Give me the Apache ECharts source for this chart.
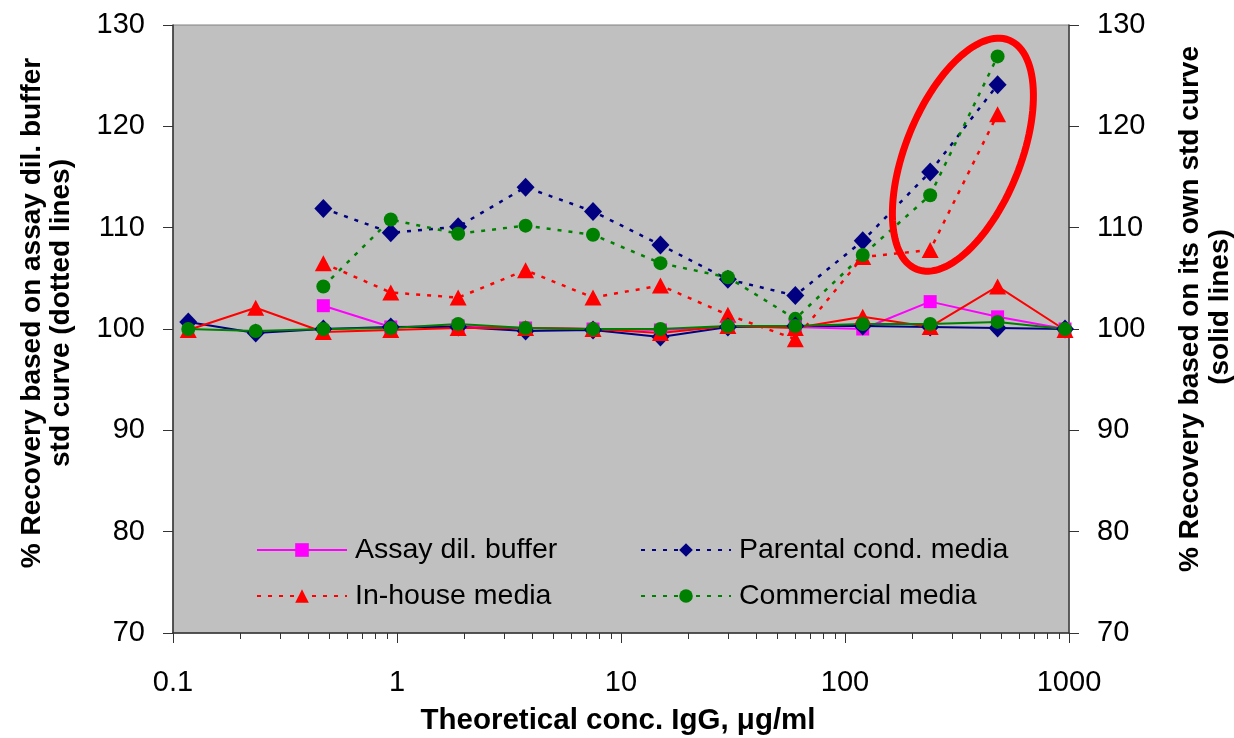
<!DOCTYPE html>
<html><head><meta charset="utf-8">
<script src="https://cdn.jsdelivr.net/npm/echarts@6/dist/echarts.min.js"></script>
<style>html,body{margin:0;padding:0;background:#fff}#c{width:1234px;height:738px}</style>
</head><body><div id="c"></div>
<script>
// Theoretical concentrations (x)
const conc = [0.117, 0.234, 0.469, 0.938, 1.875, 3.75, 7.5, 15, 30, 60, 120, 240, 480, 960];
// Solid lines: recovery based on each sample's own std curve
const assaySolid      = [null, null, 102.3, 100.2, 100.3, 100.1, 100.0, 99.9, 100.2, 100.2, 100.0, 102.7, 101.2, 100.0];
const parentalSolid   = [100.7, 99.6, 100.0, 100.2, 100.2, 99.8, 99.9, 99.2, 100.2, 100.3, 100.3, 100.2, 100.1, 100.0];
const inhouseSolid    = [99.9, 102.1, 99.7, 99.9, 100.1, 100.1, 100.0, 99.6, 100.3, 100.1, 101.2, 100.2, 104.2, 99.9];
const commercialSolid = [100.0, 99.8, 100.0, 100.1, 100.5, 100.1, 100.0, 100.0, 100.3, 100.3, 100.5, 100.5, 100.7, 100.0];
// Dotted lines: recovery based on assay dil. buffer std curve
const parentalDotted   = [null, null, 111.9, 109.5, 110.1, 114.0, 111.6, 108.3, 104.9, 103.3, 108.7, 115.5, 124.1, null];
const inhouseDotted    = [null, null, 106.5, 103.6, 103.1, 105.8, 103.1, 104.3, 101.4, 99.0, 107.1, 107.8, 121.2, null];
const commercialDotted = [null, null, 104.2, 110.8, 109.4, 110.2, 109.3, 106.5, 105.1, 101.0, 107.3, 113.2, 126.9, null];
// Axis tick labels
const xTickLabels = ['0.1', '1', '10', '100', '1000'];
const yTickLabels = ['70', '80', '90', '100', '110', '120', '130'];
const seriesNames = ['Assay dil. buffer', 'Parental cond. media', 'In-house media', 'Commercial media'];

const xDecades = xTickLabels.map(Number);
const minorTicks = [];
xDecades.slice(0, -1).forEach(d => { for (let k = 2; k <= 9; k++) minorTicks.push(+(d * k).toPrecision(6)); });

function pairs(vals) {
  const out = [];
  vals.forEach((v, i) => { if (v !== null) out.push([conc[i], v]); });
  return out;
}

const FONT = "'Liberation Sans', Arial, sans-serif";
const colors = { assay: '#FF00FF', parental: '#000080', inhouse: '#FF0000', commercial: '#008000' };
const dash = [4, 7];

function solid(name, vals, color, symbol, size) {
  return { name, type: 'line', data: pairs(vals), symbol, symbolSize: size,
    lineStyle: { color, width: 2, type: 'solid' }, itemStyle: { color }, animation: false, z: 3 };
}
function dotted(name, vals, color, symbol, size) {
  return { name, type: 'line', data: pairs(vals), symbol, symbolSize: size,
    lineStyle: { color, width: 2.5, type: dash }, itemStyle: { color }, animation: false, z: 2 };
}

const yMin = Number(yTickLabels[0]), yMax = Number(yTickLabels[yTickLabels.length - 1]);

function yAxisDef(pos, lineColor) {
  return {
    type: 'value', position: pos, min: yMin, max: yMax, interval: 10,
    axisLine: { show: true, lineStyle: { color: lineColor, width: 1.5 } },
    axisTick: { show: true, inside: false, length: 10, lineStyle: { color: '#333' } },
    axisLabel: { fontSize: 29, fontFamily: FONT, color: '#000', margin: 28 },
    splitLine: { show: false }
  };
}

function legendDef(name, left, top) {
  return {
    data: [name], left, top, orient: 'horizontal', padding: 0,
    itemWidth: 90, itemHeight: 17, selectedMode: false,
    textStyle: { fontSize: 28.5, fontFamily: FONT, color: '#000', lineHeight: 30, padding: [0, 0, 0, 3] }
  };
}

const chart = echarts.init(document.getElementById('c'), null, { renderer: 'canvas' });
const option = {
  backgroundColor: '#ffffff',
  animation: false,
  grid: { left: 173, right: 165, top: 25, bottom: 105, show: true, backgroundColor: '#C0C0C0', borderColor: '#808080', borderWidth: 1 },
  xAxis: [
    {
      type: 'log', logBase: 10, min: xDecades[0], max: xDecades[xDecades.length - 1], position: 'bottom',
      axisLine: { show: true, onZero: false, lineStyle: { color: '#333', width: 1.5 } },
      axisTick: { show: true, inside: false, length: 10, lineStyle: { color: '#333' } },
      axisLabel: { fontSize: 29, fontFamily: FONT, color: '#000', margin: 35,
        formatter: v => { const i = xDecades.findIndex(d => Math.abs(d - v) / d < 1e-6); return i >= 0 ? xTickLabels[i] : ''; } },
      splitLine: { show: false }
    },
    {
      type: 'log', logBase: 10, min: xDecades[0], max: xDecades[xDecades.length - 1], position: 'bottom',
      axisLine: { show: false },
      axisTick: { show: true, inside: false, length: 6, customValues: minorTicks, lineStyle: { color: '#333' } },
      axisLabel: { show: false },
      splitLine: { show: false }
    }
  ],
  yAxis: [yAxisDef('left', '#333'), yAxisDef('right', '#404040')],
  legend: [
    legendDef(seriesNames[0], 256, 535),
    legendDef(seriesNames[1], 640, 535),
    legendDef(seriesNames[2], 256, 581),
    legendDef(seriesNames[3], 640, 581)
  ],
  series: [
    solid(seriesNames[0], assaySolid, colors.assay, 'rect', 13),
    dotted(seriesNames[1], parentalDotted, colors.parental, 'diamond', [18, 19]),
    dotted(seriesNames[2], inhouseDotted, colors.inhouse, 'triangle', [17, 16]),
    dotted(seriesNames[3], commercialDotted, colors.commercial, 'circle', 14),
    solid(seriesNames[1], parentalSolid, colors.parental, 'diamond', [18, 19]),
    solid(seriesNames[2], inhouseSolid, colors.inhouse, 'triangle', [17, 16]),
    solid(seriesNames[3], commercialSolid, colors.commercial, 'circle', 14)
  ]
};
chart.setOption(option);

// Annotation ellipse around the high-concentration dotted points
const c = chart.convertToPixel({ xAxisIndex: 0, yAxisIndex: 0 }, [336, 117.2]);
const a = 123.5, b = 57.4, th = 22 * Math.PI / 180;
const ux = Math.sin(th), uy = -Math.cos(th), vx = Math.cos(th), vy = Math.sin(th);
const pts = [];
for (let i = 0; i < 120; i++) {
  const t = i / 120 * 2 * Math.PI;
  pts.push([c[0] + a * Math.cos(t) * ux + b * Math.sin(t) * vx, c[1] + a * Math.cos(t) * uy + b * Math.sin(t) * vy]);
}

const TF = "'Liberation Sans', Arial, sans-serif";
chart.setOption({
  graphic: [
    { type: 'polygon', shape: { points: pts }, style: { fill: 'none', stroke: '#FF0000', lineWidth: 7 }, z: 10, silent: true },
    { type: 'text', x: 32, y: 313, rotation: Math.PI / 2, style: { text: '% Recovery based on assay dil. buffer', font: 'bold 28px ' + TF, fill: '#000', textAlign: 'center', textVerticalAlign: 'middle' } },
    { type: 'text', x: 61, y: 313, rotation: Math.PI / 2, style: { text: 'std curve (dotted lines)', font: 'bold 28px ' + TF, fill: '#000', textAlign: 'center', textVerticalAlign: 'middle' } },
    { type: 'text', x: 1190, y: 309, rotation: Math.PI / 2, style: { text: '% Recovery based on its own std curve', font: 'bold 28px ' + TF, fill: '#000', textAlign: 'center', textVerticalAlign: 'middle' } },
    { type: 'text', x: 1220, y: 307, rotation: Math.PI / 2, style: { text: '(solid lines)', font: 'bold 28px ' + TF, fill: '#000', textAlign: 'center', textVerticalAlign: 'middle' } },
    { type: 'text', x: 618, y: 721, style: { text: 'Theoretical conc. IgG, \u03bcg/ml', font: 'bold 29.5px ' + TF, fill: '#000', textAlign: 'center', textVerticalAlign: 'middle' } }
  ]
});
</script>
</body></html>
